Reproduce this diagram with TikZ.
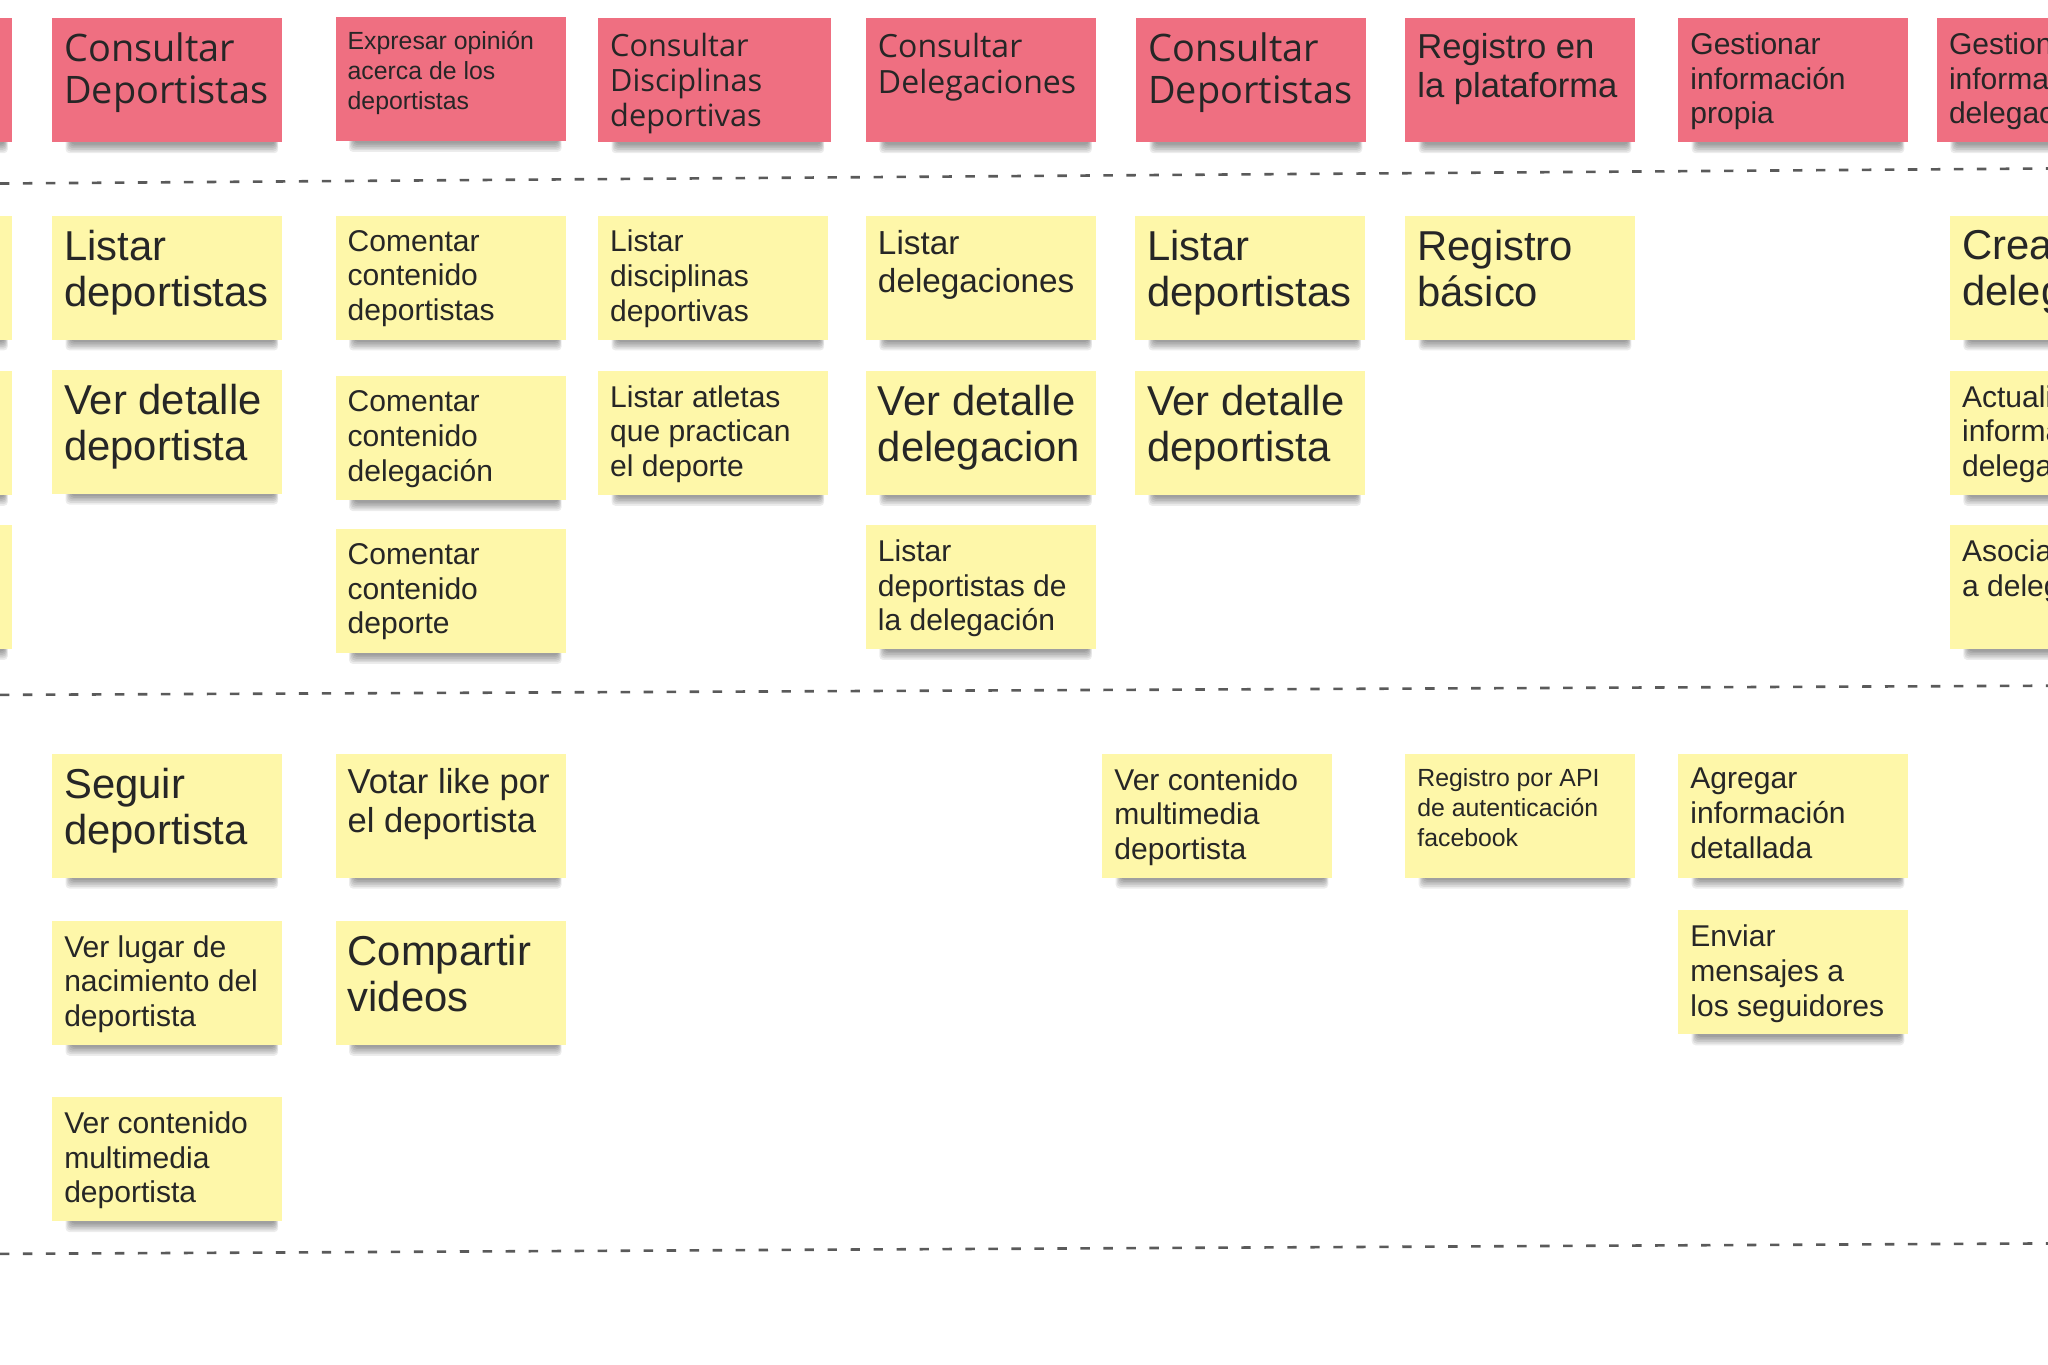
\documentclass[tikz,border=0pt]{standalone}
\usepackage{fontspec}
\setmainfont{Liberation Sans}
\newfontfamily\osans{Open Sans}
\definecolor{stred}{HTML}{EF6F81}
\definecolor{styel}{HTML}{FEF7A9}
\definecolor{sttxt}{HTML}{262626}
\definecolor{lanegray}{HTML}{5A5A5A}
\newcommand\szXL{\fontsize{32}{35}\selectfont}
\newcommand\szCo{\osans\fontsize{29}{32}\selectfont}
\newcommand\szCm{\osans\fontsize{23.5}{27}\selectfont}
\newcommand\szCd{\osans\fontsize{24.5}{28}\selectfont}
\newcommand\szM{\fontsize{23}{26.5}\selectfont}
\newcommand\szMd{\fontsize{25.5}{29}\selectfont}
\newcommand\szL{\fontsize{26.5}{30}\selectfont}
\newcommand\szS{\fontsize{19}{23}\selectfont}
\tikzset{
  redbox/.style={fill=stred, minimum width=176pt, minimum height=95pt, inner sep=0pt, outer sep=0pt},
  yelbox/.style={fill=styel, minimum width=176pt, minimum height=95pt, inner sep=0pt, outer sep=0pt},
  notetxt/.style={text=sttxt, align=left, inner sep=0pt},
  lane/.style={draw=lanegray, line width=2pt, dash pattern=on 7.2pt off 10.4pt}
}
% #1 name, #2 x, #3 y, #4 box style, #5 font, #6 text
\newcommand\sticky[6]{%
  \foreach \k in {1,...,6}{%
    \fill[black, opacity=0.075, rounded corners=3pt] ({#2+15-\k*0.8},{#3+88}) rectangle ({#2+170+\k*0.5},{#3+95.5+\k*1.3});}
  \node[#4, anchor=north west] (#1) at (#2,#3) {};
  \node[notetxt, anchor=north west, font={#5}] (#1t) at ({#2+9},{#3+11}) {#6};
}
\begin{document}
\begin{tikzpicture}[x=1pt,y=-1pt]
\clip (0,0) rectangle (1568,1045);
\fill[white] (0,0) rectangle (1568,1045);
% lane separators
\coordinate (l1a) at (0,140.5); \coordinate (l1b) at (1568,129);
\coordinate (l2a) at (0,532);   \coordinate (l2b) at (1568,525);
\coordinate (l3a) at (0,960);   \coordinate (l3b) at (1568,952);
\draw[lane] (l1a) -- (l1b);
\draw[lane] (l2a) -- (l2b);
\draw[lane] (l3a) -- (l3b);
% row 1 (red)
\sticky{r0}{-167}{14}{redbox}{\szCo}{}
\sticky{r1}{40}{14}{redbox}{\szCo}{Consultar\\Deportistas}
\sticky{r2}{257}{13}{redbox}{\szS}{Expresar opinión\\acerca de los\\deportistas}
\sticky{r3}{458}{14}{redbox,minimum width=178pt}{\szCm}{Consultar\\Disciplinas\\deportivas}
\sticky{r4}{663}{14}{redbox}{\szCd}{Consultar\\Delegaciones}
\sticky{r5}{870}{14}{redbox}{\szCo}{Consultar\\Deportistas}
\sticky{r6}{1076}{14}{redbox}{\szL}{Registro en\\la plataforma}
\sticky{r7}{1285}{14}{redbox}{\szM}{Gestionar\\información\\propia}
\sticky{r8}{1483}{14}{redbox}{\szM}{Gestionar\\información\\delegaciones}
% row 2 (yellow)
\sticky{a0}{-167}{165}{yelbox}{\szM}{}
\sticky{b0}{-167}{284}{yelbox}{\szM}{}
\sticky{c0}{-167}{402}{yelbox}{\szM}{}
\sticky{y1}{40}{165}{yelbox}{\szXL}{Listar\\deportistas}
\sticky{y2}{257}{165}{yelbox}{\szM}{Comentar\\contenido\\deportistas}
\sticky{y3}{458}{165}{yelbox}{\szM}{Listar\\disciplinas\\deportivas}
\sticky{y4}{663}{165}{yelbox}{\szMd}{Listar\\delegaciones}
\sticky{y5}{869}{165}{yelbox}{\szXL}{Listar\\deportistas}
\sticky{y6}{1076}{165}{yelbox}{\szXL}{Registro\\básico}
\sticky{y7}{1493}{165}{yelbox}{\szXL}{Crear\\delegación}
\sticky{y8}{40}{283}{yelbox}{\szXL}{Ver detalle\\deportista}
\sticky{y9}{257}{288}{yelbox}{\szM}{Comentar\\contenido\\delegación}
\sticky{y10}{458}{284}{yelbox}{\szM}{Listar atletas\\que practican\\el deporte}
\sticky{y11}{663}{284}{yelbox}{\szXL}{Ver detalle\\delegacion}
\sticky{y12}{869}{284}{yelbox}{\szXL}{Ver detalle\\deportista}
\sticky{y13}{1493}{284}{yelbox}{\szM}{Actualizar\\información\\delegación}
\sticky{y14}{257}{405}{yelbox}{\szM}{Comentar\\contenido\\deporte}
\sticky{y15}{663}{402}{yelbox}{\szM}{Listar\\deportistas de\\la delegación}
\sticky{y16}{1493}{402}{yelbox}{\szM}{Asociar\\a delegación}
% row 3 (yellow)
\sticky{z1}{40}{577}{yelbox}{\szXL}{Seguir\\deportista}
\sticky{z2}{40}{705}{yelbox}{\szM}{Ver lugar de\\nacimiento del\\deportista}
\sticky{z3}{40}{840}{yelbox}{\szM}{Ver contenido\\multimedia\\deportista}
\sticky{z4}{257}{577}{yelbox}{\szL}{Votar like por\\el deportista}
\sticky{z5}{257}{705}{yelbox}{\szXL}{Compartir\\videos}
\sticky{z6}{844}{577}{yelbox}{\szM}{Ver contenido\\multimedia\\deportista}
\sticky{z7}{1076}{577}{yelbox}{\szS}{Registro por API\\de autenticación\\facebook}
\sticky{z8}{1285}{577}{yelbox}{\szM}{Agregar\\información\\detallada}
\sticky{z9}{1285}{697}{yelbox}{\szM}{Enviar\\mensajes a\\los seguidores}
\end{tikzpicture}
\end{document}
